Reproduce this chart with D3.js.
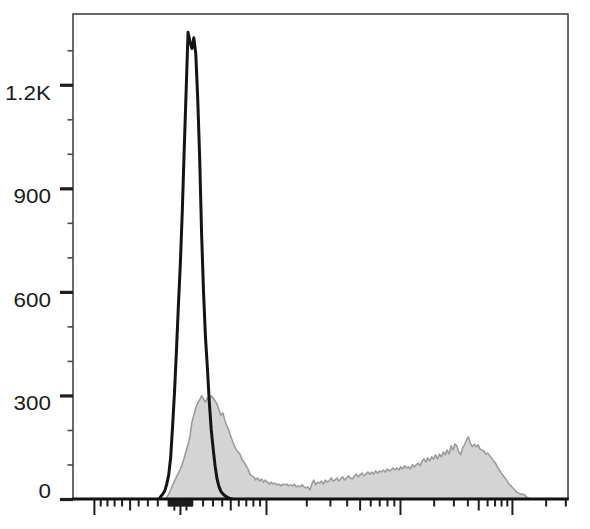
<!DOCTYPE html>
<html>
<head>
<meta charset="utf-8">
<title>Histogram overlay</title>
<style>
body { margin: 0; background: #fff; }
#chart { width: 590px; height: 529px; }
.y_axis text {
  font-family: 'Liberation Sans', Arial, sans-serif;
  font-size: 19.5px;
  fill: #1a1a1a;
}
.y_axis path, .x_axis path { display: none; }
.y_major line { stroke: #1e1e1e; stroke-width: 3.2; }
.y_minor line { stroke: #4a4a4a; stroke-width: 1.6; }
.x_axis line { stroke: #1e1e1e; stroke-width: 2; }
</style>
<script src="https://cdnjs.cloudflare.com/ajax/libs/d3/7.8.5/d3.min.js"></script>
</head>
<body>
<div id="chart"></div>
<script>
// 256-channel histograms, counts per channel from the start channel on
var control_start = 44;
var control_counts = [0, 8, 15, 24, 44, 70, 120, 210, 310, 430,
                      560, 680, 830, 1010, 1180, 1352, 1325, 1305, 1336, 1290,
                      1160, 990, 770, 600, 470, 380, 280, 200, 145, 95,
                      58, 36, 22, 15, 10, 6, 3, 1, 0];

var stained_start = 47;
var stained_counts = [0, 5, 14, 26, 40, 52, 64, 75, 87, 101,
                      119, 139, 157, 183, 223, 243, 264, 278, 287, 299,
                      290, 281, 293, 287, 299, 293, 284, 275, 258, 243,
                      249, 229, 212, 200, 183, 168, 154, 142, 136, 128,
                      113, 107, 96, 87, 72, 67, 64, 55, 61, 52,
                      58, 49, 55, 49, 43, 49, 43, 46, 41, 43,
                      38, 43, 41, 43, 38, 41, 38, 43, 35, 38,
                      35, 41, 35, 32, 35, 26, 43, 55, 41, 49,
                      46, 52, 43, 55, 49, 52, 61, 52, 55, 61,
                      52, 58, 64, 55, 61, 67, 61, 58, 67, 72,
                      64, 70, 75, 67, 72, 78, 72, 78, 72, 81,
                      75, 81, 78, 84, 78, 87, 81, 84, 90, 84,
                      90, 84, 93, 87, 96, 90, 93, 87, 99, 93,
                      99, 104, 96, 110, 116, 107, 119, 110, 122, 116,
                      128, 116, 130, 122, 136, 128, 142, 130, 154, 142,
                      159, 154, 136, 128, 148, 157, 171, 180, 162, 151,
                      159, 151, 157, 145, 142, 139, 130, 133, 125, 119,
                      110, 104, 93, 84, 75, 67, 61, 52, 43, 38,
                      32, 26, 20, 17, 14, 14, 12, 6, 3, 0];

var y_major = [0, 300, 600, 900, 1200];
var y_labels = ["0", "300", "600", "900", "1.2K"];
var y_minor = [100, 200, 400, 500, 700, 800, 1000, 1100, 1300];

var x_long = [-1000, 0, 1000, 10000, 100000];
var x_medium = [-500, -50, 50, 500, 5000, 50000];
var x_small = [-900, -800, -700, -600, -400, -300, -200, -100,
               -90, -80, -70, -60, -40, -30, -20, -10,
               10, 20, 30, 40, 60, 70, 80, 90,
               100, 200, 300, 400, 600, 700, 800, 900,
               2000, 3000, 4000, 6000, 7000, 8000, 9000,
               20000, 30000, 40000, 60000, 70000, 80000, 90000,
               200000, 300000];

// biexponential display: value -> channel
var ch_zero = 55.3, ch_lin = 44.5, ch_dec3 = 69.3, ch_dec4 = 57.9;
function biex(v) {
  var a = Math.abs(v), d;
  if (a <= 1000) d = ch_lin * Math.log10(1 + a / 1000) / Math.log10(2);
  else if (a <= 10000) d = ch_lin + ch_dec3 * Math.log10(a / 1000);
  else d = ch_lin + ch_dec3 + ch_dec4 * Math.log10(a / 10000);
  return ch_zero + (v < 0 ? -d : d);
}

var margin = { top: 14, right: 22, bottom: 30, left: 73 };
var width = 590 - margin.left - margin.right;
var height = 529 - margin.top - margin.bottom;

var x = d3.scaleLinear().domain([0, 256]).range([0, width]);
var y = d3.scaleLinear().domain([0, 1405]).range([height, 0]);

var svg = d3.select("#chart").append("svg")
  .attr("width", 590).attr("height", 529);
var chart = svg.append("g")
  .attr("transform", "translate(" + margin.left + "," + margin.top + ")");

var stained = stained_counts.map(function(c, i) { return { ch: stained_start + i + 0.5, n: c }; });
var control = control_counts.map(function(c, i) { return { ch: control_start + i + 0.5, n: c }; });

chart.append("path")
  .datum(stained)
  .attr("d", d3.area()
    .x(function(d) { return x(d.ch); })
    .y0(y(0))
    .y1(function(d) { return y(d.n); }))
  .attr("fill", "#d4d4d4")
  .attr("stroke", "#9c9c9c")
  .attr("stroke-width", 1.6)
  .attr("stroke-linejoin", "round");

chart.append("path")
  .datum(control)
  .attr("d", d3.line()
    .x(function(d) { return x(d.ch); })
    .y(function(d) { return y(d.n); }))
  .attr("fill", "none")
  .attr("stroke", "#141414")
  .attr("stroke-width", 3)
  .attr("stroke-linejoin", "round");

// frame
chart.append("rect")
  .attr("x", 0).attr("y", 0)
  .attr("width", width).attr("height", height)
  .attr("fill", "none")
  .attr("stroke", "#3a3a3a")
  .attr("stroke-width", 1.5);

// x axis, three tick lengths
function in_range(v) { var c = biex(v); return c >= 0 && c <= 256; }
[[x_long, 16], [x_medium, 11.5], [x_small, 7.5]].forEach(function(t) {
  chart.append("g")
    .attr("class", "x_axis")
    .attr("transform", "translate(0," + height + ")")
    .call(d3.axisBottom(x)
      .tickValues(t[0].filter(in_range).map(biex))
      .tickSize(t[1])
      .tickSizeOuter(0)
      .tickFormat(""));
});

chart.append("line")
  .attr("x1", x(0) - 0.75).attr("x2", x(256) + 0.75)
  .attr("y1", y(0)).attr("y2", y(0))
  .attr("stroke", "#111")
  .attr("stroke-width", 3);

// y axis
chart.append("g")
  .attr("class", "y_axis y_minor")
  .call(d3.axisLeft(y).tickValues(y_minor).tickSize(5.5).tickFormat(""));

var y_axis = chart.append("g")
  .attr("class", "y_axis y_major")
  .call(d3.axisLeft(y)
    .tickValues(y_major)
    .tickSize(13)
    .tickSizeOuter(0)
    .tickFormat(function(d, i) { return y_labels[i]; }));

y_axis.selectAll("text")
  .attr("x", 0)
  .attr("dy", null)
  .attr("transform", function(d) {
    return "translate(-22," + (d === 0 ? -2 : 14.5) + ") scale(1.15,1)";
  });
</script>
</body>
</html>
